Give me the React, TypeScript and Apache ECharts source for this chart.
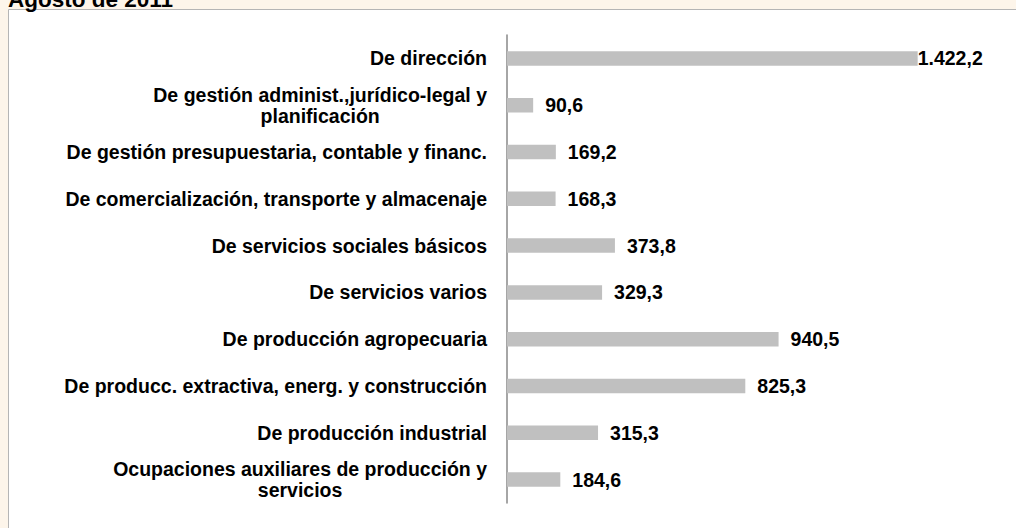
import React, { useEffect, useRef } from "react";
import * as echarts from "echarts";

const titleText = "Agosto de 2011";
const categories = [
  "De dirección",
  "De gestión administ.,jurídico-legal y\nplanificación",
  "De gestión presupuestaria, contable y financ.",
  "De comercialización, transporte y almacenaje",
  "De servicios sociales básicos",
  "De servicios varios",
  "De producción agropecuaria",
  "De producc. extractiva, energ. y construcción",
  "De producción industrial",
  "Ocupaciones auxiliares de producción y\nservicios",
];
const values = [1422.2, 90.6, 169.2, 168.3, 373.8, 329.3, 940.5, 825.3, 315.3, 184.6];

const FONT = '"Liberation Sans", Arial, sans-serif';

function fmt(v: number): string {
  const [i, d] = v.toFixed(1).split(".");
  const withDots = i.replace(/\B(?=(\d{3})+(?!\d))/g, ".");
  return withDots + "," + d;
}

export default function App() {
  const ref = useRef<HTMLDivElement>(null);
  useEffect(() => {
    if (!ref.current) return;
    const chart = echarts.init(ref.current, undefined, { renderer: "svg" });
    chart.setOption({
      animation: false,
      backgroundColor: "#fdf5ea",
      graphic: [
        {
          type: "rect",
          z: -10,
          shape: { x: 8.5, y: 9.5, width: 1020, height: 540 },
          style: { fill: "#ffffff", stroke: "#b5b5b5", lineWidth: 1 },
        },
        {
          type: "text",
          x: 8,
          y: -12,
          style: {
            text: titleText,
            fontSize: 22.5,
            fontWeight: "bold",
            fontFamily: FONT,
            fill: "#000",
          },
        },
      ],
      grid: { left: 507, right: 47, top: 35, height: 468, containLabel: false },
      xAxis: { type: "value", min: 0, max: 1600, show: false },
      yAxis: {
        type: "category",
        inverse: true,
        data: categories,
        axisLine: { show: true, lineStyle: { color: "#888888", width: 1.5 } },
        axisTick: { show: false },
        splitLine: { show: false },
        axisLabel: {
          margin: 20,
          fontSize: 19.5,
          fontWeight: "bold",
          fontFamily: FONT,
          color: "#000",
          lineHeight: 21,
          formatter: (v: string) =>
            v.indexOf("\n") >= 0
              ? v.split("\n").map((l) => `{c|${l}}`).join("\n")
              : v,
          rich: {
            c: {
              align: "center",
              fontSize: 19.5,
              fontWeight: "bold",
              fontFamily: FONT,
              color: "#000",
              lineHeight: 21,
            },
          },
        },
      },
      series: [
        {
          type: "bar",
          barWidth: 14.5,
          itemStyle: { color: "#c0c0c0" },
          label: {
            show: true,
            position: "right",
            distance: 12,
            fontSize: 19.5,
            fontWeight: "bold",
            fontFamily: FONT,
            color: "#000",
            formatter: (p: any) => fmt(p.value),
          },
          data: values.map((v, i) =>
            i === 0 ? { value: v, label: { distance: 0 } } : v
          ),
        },
      ],
    });
    return () => chart.dispose();
  }, []);
  return (
    <div
      ref={ref}
      style={{ position: "fixed", left: 0, top: 0, width: 1016, height: 528 }}
    />
  );
}
